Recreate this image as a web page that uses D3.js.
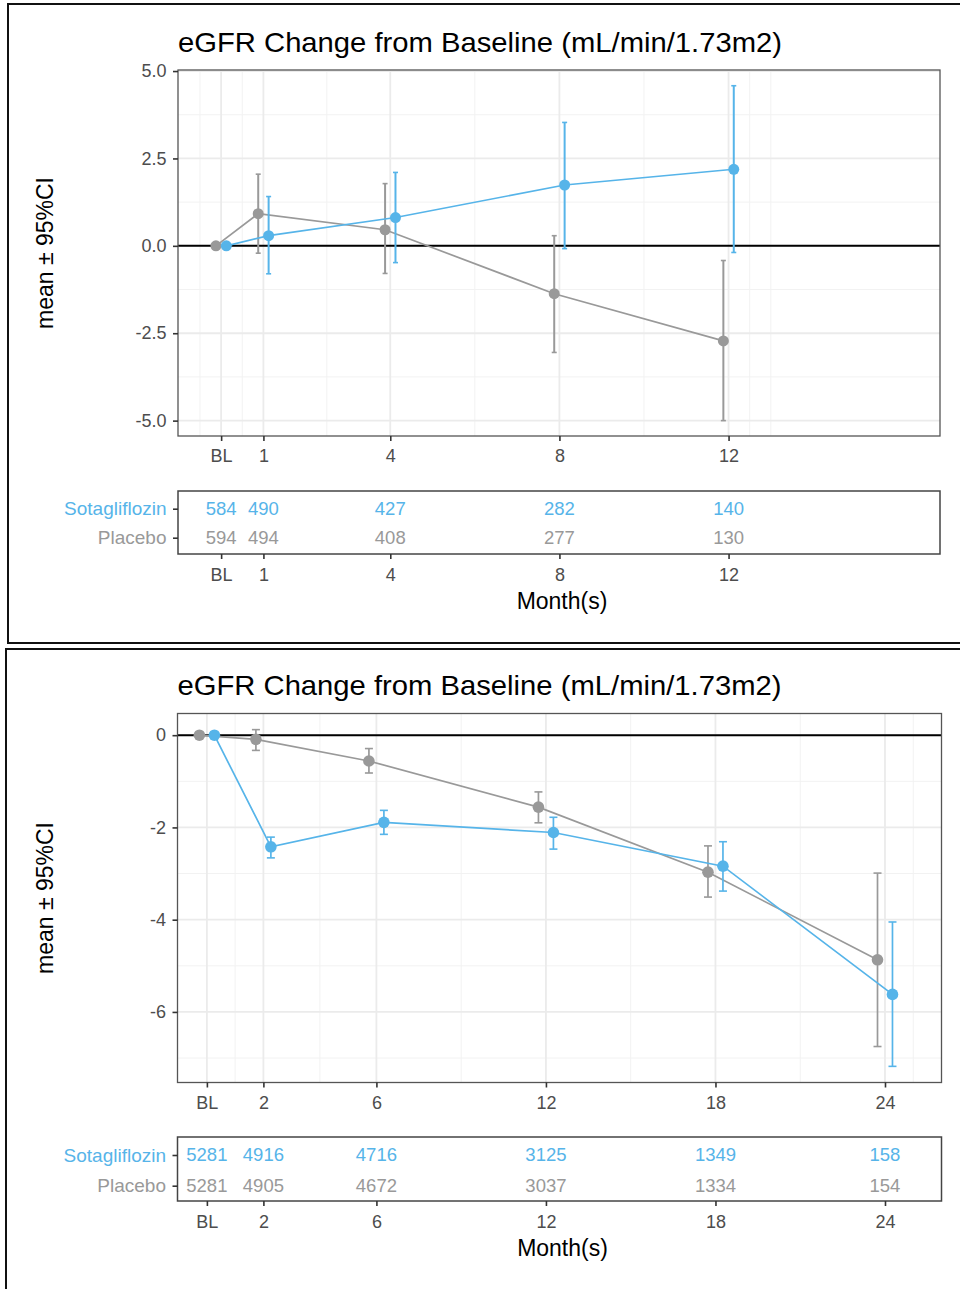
<!DOCTYPE html>
<html>
<head>
<meta charset="utf-8">
<script src="https://cdn.jsdelivr.net/npm/d3@7.9.0/dist/d3.min.js"></script>
<style>
  body { margin: 0; background: #fff; }
  svg { display: block; font-family: "Liberation Sans", Arial, sans-serif; }
</style>
</head>
<body>
<svg id="chart" width="960" height="1289"></svg>
<script>
/* =========================
   DATA
========================= */
const groups = ['Sotagliflozin', 'Placebo'];
const titleText = 'eGFR Change from Baseline (mL/min/1.73m2)';

// first chart (up to month 12)
const topMonths = [0, 1, 4, 8, 12];
const topTickLabels = ['BL', '1', '4', '8', '12'];
const topSotaMean = [0, 0.29, 0.81, 1.74, 2.19];
const topSotaLow = [0, -0.80, -0.48, -0.08, -0.19];
const topSotaHigh = [0, 1.41, 2.10, 3.53, 4.58];
const topPlacMean = [0, 0.92, 0.46, -1.37, -2.72];
const topPlacLow = [0, -0.21, -0.79, -3.05, -5.00];
const topPlacHigh = [0, 2.05, 1.78, 0.29, -0.42];
const topSotaN = [584, 490, 427, 282, 140];
const topPlacN = [594, 494, 408, 277, 130];
const topYTicks = [5, 2.5, 0, -2.5, -5];
const topYMinor = [3.75, 1.25, -1.25, -3.75];
const topXMinor = [-0.5, 0.5, 2.5, 6, 10, 12.5, 13];

// second chart (up to month 24)
const botMonths = [0, 2, 6, 12, 18, 24];
const botTickLabels = ['BL', '2', '6', '12', '18', '24'];
const botSotaMean = [0, -2.42, -1.89, -2.11, -2.84, -5.62];
const botSotaLow = [0, -2.66, -2.15, -2.47, -3.38, -7.18];
const botSotaHigh = [0, -2.21, -1.63, -1.78, -2.31, -4.05];
const botPlacMean = [0, -0.09, -0.56, -1.56, -2.97, -4.87];
const botPlacLow = [0, -0.33, -0.82, -1.90, -3.51, -6.75];
const botPlacHigh = [0, 0.12, -0.29, -1.23, -2.40, -2.99];
const botSotaN = [5281, 4916, 4716, 3125, 1349, 158];
const botPlacN = [5281, 4905, 4672, 3037, 1334, 154];
const botYTicks = [0, -2, -4, -6];
const botYMinor = [-1, -3, -5, -7];
const botXMinor = [1, 4, 9, 15, 21, 25];

const colors = { Sotagliflozin: '#56B4E9', Placebo: '#999999' };

const svg = d3.select('#chart');
svg.append('rect').attr('width', 960).attr('height', 1289).attr('fill', '#fff');

/* =========================
   FRAMES
========================= */
const frames = svg.append('g').attr('stroke', '#111').attr('stroke-width', 2).attr('fill', 'none');
frames.append('path').attr('d', 'M960,4H8V643H960');
frames.append('path').attr('d', 'M960,649H6V1289');

/* =========================
   ONE PANEL
========================= */
function drawPanel(o) {
  const g = svg.append('g');

  const x = d3.scaleLinear().domain(o.xDomain).range([o.left, o.right]);
  const y = d3.scaleLinear().domain(o.yDomain).range([o.bottom, o.top]);

  // title
  g.append('text')
    .attr('x', o.left)
    .attr('y', o.titleY)
    .attr('font-size', 28)
    .attr('textLength', 604)
    .attr('lengthAdjust', 'spacingAndGlyphs')
    .attr('fill', '#000')
    .text(titleText);

  // grid
  const grid = g.append('g').attr('fill', 'none');
  grid.selectAll('.vminor').data(o.xMinor).join('line')
    .attr('x1', d => x(d)).attr('x2', d => x(d))
    .attr('y1', o.top).attr('y2', o.bottom)
    .attr('stroke', '#f2f2f2').attr('stroke-width', 1);
  grid.selectAll('.hminor').data(o.yMinor).join('line')
    .attr('y1', d => y(d)).attr('y2', d => y(d))
    .attr('x1', o.left).attr('x2', o.right)
    .attr('stroke', '#f2f2f2').attr('stroke-width', 1);
  grid.selectAll('.vmajor').data(o.months).join('line')
    .attr('x1', d => x(d)).attr('x2', d => x(d))
    .attr('y1', o.top).attr('y2', o.bottom)
    .attr('stroke', '#ebebeb').attr('stroke-width', 1.8);
  grid.selectAll('.hmajor').data(o.yTicks).join('line')
    .attr('y1', d => y(d)).attr('y2', d => y(d))
    .attr('x1', o.left).attr('x2', o.right)
    .attr('stroke', '#ebebeb').attr('stroke-width', 1.8);

  // zero reference
  g.append('line')
    .attr('x1', o.left).attr('x2', o.right)
    .attr('y1', y(0)).attr('y2', y(0))
    .attr('stroke', '#000').attr('stroke-width', 2);

  // series: placebo first, sotagliflozin on top
  o.series.forEach(s => {
    const pts = o.months.map((m, i) => ({
      m, mean: s.mean[i], lo: s.low[i], hi: s.high[i]
    }));
    const sg = g.append('g');
    const xd = d => x(d.m + s.dodge);

    sg.selectAll('.eb').data(pts).join('line')
      .attr('x1', xd).attr('x2', xd)
      .attr('y1', d => y(d.lo)).attr('y2', d => y(d.hi))
      .attr('stroke', s.color).attr('stroke-width', o.barWidth);
    ['lo', 'hi'].forEach(k => {
      sg.selectAll('.cap-' + k).data(pts).join('line')
        .attr('x1', d => xd(d) - o.cap).attr('x2', d => xd(d) + o.cap)
        .attr('y1', d => y(d[k])).attr('y2', d => y(d[k]))
        .attr('stroke', s.color).attr('stroke-width', 1.6);
    });

    sg.append('path')
      .datum(pts)
      .attr('fill', 'none')
      .attr('stroke', s.color)
      .attr('stroke-width', 1.7)
      .attr('d', d3.line().x(xd).y(d => y(d.mean)));

    sg.selectAll('circle').data(pts).join('circle')
      .attr('cx', xd).attr('cy', d => y(d.mean))
      .attr('r', o.r).attr('fill', s.color);
  });

  // border
  g.append('rect')
    .attr('x', o.left).attr('y', o.top)
    .attr('width', o.right - o.left).attr('height', o.bottom - o.top)
    .attr('fill', 'none').attr('stroke', '#555').attr('stroke-width', 1.3);

  // axes
  const yAxis = g.append('g')
    .attr('transform', `translate(${o.left},0)`)
    .call(d3.axisLeft(y).tickValues(o.yTicks).tickFormat(o.yFormat)
      .tickSize(5).tickPadding(6.5));
  const xAxis = g.append('g')
    .attr('transform', `translate(0,${o.bottom})`)
    .call(d3.axisBottom(x).tickValues(o.months)
      .tickFormat((d, i) => o.tickLabels[i]).tickSize(5).tickPadding(8.5));
  [yAxis, xAxis].forEach(a => {
    a.select('.domain').remove();
    a.selectAll('line').attr('stroke', '#333').attr('stroke-width', 1.6);
    a.selectAll('text').attr('fill', '#4d4d4d').attr('font-size', 18)
      .attr('font-family', '"Liberation Sans", Arial, sans-serif');
  });

  // y axis label
  g.append('text')
    .attr('transform', `translate(53,${(o.top + o.bottom) / 2}) rotate(-90)`)
    .attr('text-anchor', 'middle')
    .attr('font-size', 23)
    .attr('fill', '#000')
    .text('mean \u00B1 95%CI');

  /* =========================
     RISK TABLE
  ========================= */
  const t = svg.append('g');
  const row = d3.scalePoint().domain(groups).range([o.rowTop, o.rowBottom]);

  t.append('rect')
    .attr('x', o.left).attr('y', o.boxTop)
    .attr('width', o.right - o.left).attr('height', o.boxBottom - o.boxTop)
    .attr('fill', 'none').attr('stroke', '#444').attr('stroke-width', 1.5);

  const rowAxis = t.append('g')
    .attr('transform', `translate(${o.left},0)`)
    .call(d3.axisLeft(row).tickSize(5).tickPadding(6.5));
  rowAxis.select('.domain').remove();
  rowAxis.selectAll('line').attr('stroke', '#333').attr('stroke-width', 1.6);
  rowAxis.selectAll('text')
    .attr('font-size', 19)
    .attr('font-family', '"Liberation Sans", Arial, sans-serif')
    .attr('fill', d => colors[d]);

  o.series.forEach(s => {
    t.selectAll(null).data(o.months.map((m, i) => ({ m, n: s.n[i] }))).join('text')
      .attr('x', d => x(d.m))
      .attr('y', row(s.name))
      .attr('dy', '0.35em')
      .attr('text-anchor', 'middle')
      .attr('font-size', 18.5)
      .attr('fill', s.color)
      .text(d => d.n);
  });

  const tAxis = t.append('g')
    .attr('transform', `translate(0,${o.boxBottom})`)
    .call(d3.axisBottom(x).tickValues(o.months)
      .tickFormat((d, i) => o.tickLabels[i]).tickSize(5).tickPadding(9));
  tAxis.select('.domain').remove();
  tAxis.selectAll('line').attr('stroke', '#333').attr('stroke-width', 1.6);
  tAxis.selectAll('text').attr('fill', '#4d4d4d').attr('font-size', 18)
    .attr('font-family', '"Liberation Sans", Arial, sans-serif');

  t.append('text')
    .attr('x', (o.left + o.right) / 2 + 3)
    .attr('y', o.monthY)
    .attr('text-anchor', 'middle')
    .attr('font-size', 23)
    .attr('fill', '#000')
    .text('Month(s)');
}

function makeSeries(sMean, sLow, sHigh, sN, pMean, pLow, pHigh, pN, dodge) {
  return [
    { name: 'Placebo', color: colors.Placebo, mean: pMean, low: pLow, high: pHigh, n: pN, dodge: -dodge },
    { name: 'Sotagliflozin', color: colors.Sotagliflozin, mean: sMean, low: sLow, high: sHigh, n: sN, dodge: dodge }
  ];
}

drawPanel({
  left: 178, right: 940, top: 70, bottom: 436,
  xDomain: [-1.02, 17], yDomain: [-5.44, 5.03],
  months: topMonths, tickLabels: topTickLabels,
  yTicks: topYTicks, yMinor: topYMinor, xMinor: topXMinor,
  yFormat: d => d.toFixed(1),
  series: makeSeries(topSotaMean, topSotaLow, topSotaHigh, topSotaN,
    topPlacMean, topPlacLow, topPlacHigh, topPlacN, 0.123),
  r: 5.5, cap: 2.5, barWidth: 2,
  titleY: 52,
  boxTop: 491, boxBottom: 554, rowTop: 508.7, rowBottom: 537.7,
  monthY: 609
});

drawPanel({
  left: 177.5, right: 941.5, top: 713.5, bottom: 1082.5,
  xDomain: [-1.04, 26], yDomain: [-7.53, 0.47],
  months: botMonths, tickLabels: botTickLabels,
  yTicks: botYTicks, yMinor: botYMinor, xMinor: botXMinor,
  yFormat: d => String(d),
  series: makeSeries(botSotaMean, botSotaLow, botSotaHigh, botSotaN,
    botPlacMean, botPlacLow, botPlacHigh, botPlacN, 0.265),
  r: 5.8, cap: 4, barWidth: 1.7,
  titleY: 695,
  boxTop: 1137, boxBottom: 1201, rowTop: 1155, rowBottom: 1185.7,
  monthY: 1256
});
</script>
</body>
</html>
